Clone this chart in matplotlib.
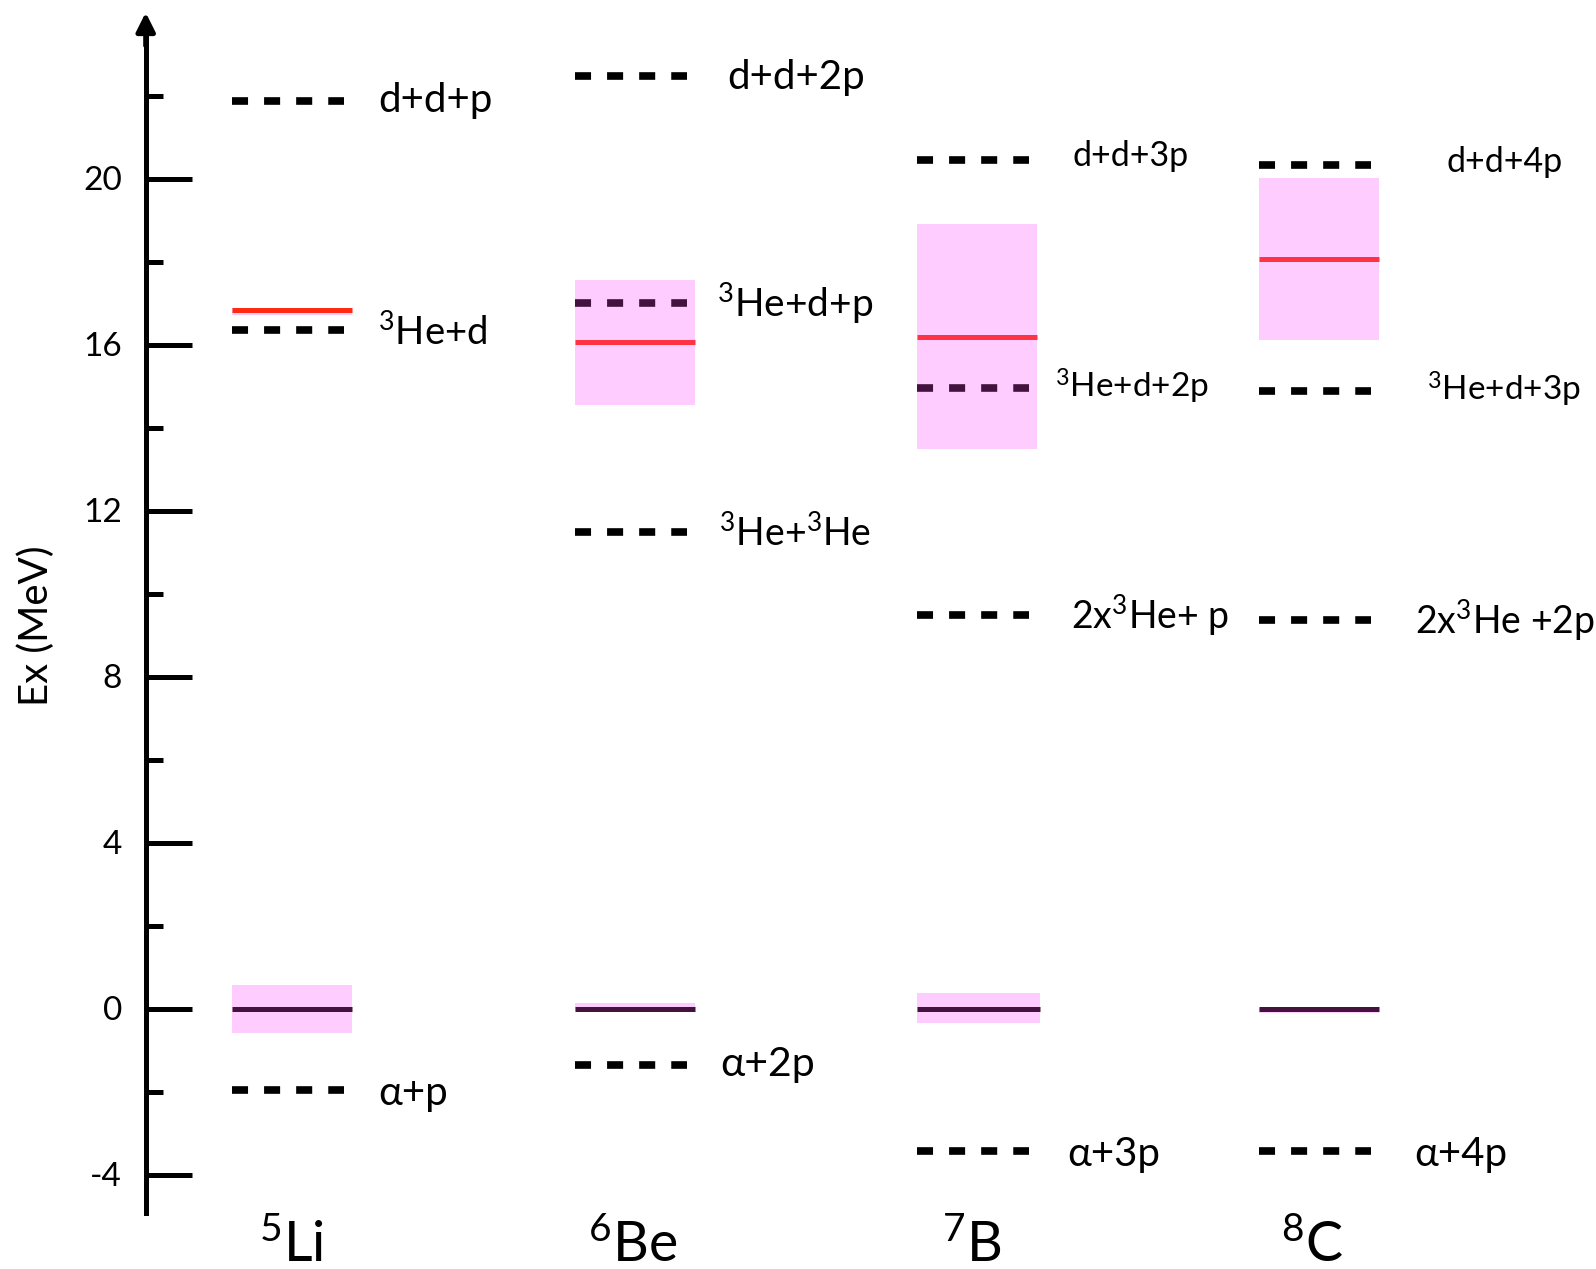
import matplotlib
matplotlib.use("Agg")
import matplotlib.pyplot as plt

plt.rcParams['font.family'] = ['Lato', 'Noto Sans', 'DejaVu Sans']
plt.rcParams['mathtext.fontset'] = 'custom'
plt.rcParams['mathtext.rm'] = 'Lato'
plt.rcParams['mathtext.it'] = 'Lato:italic'
plt.rcParams['mathtext.bf'] = 'Lato:bold'

# ---- data (energies in MeV) ----
nuclei = [r'$\mathregular{^5}$Li', r'$\mathregular{^6}$Be', r'$\mathregular{^7}$B', r'$\mathregular{^8}$C']
ground_band = [(-0.58, 0.57), (-0.07, 0.13), (-0.34, 0.37), (-0.10, 0.02)]
excited_level = [16.83, 16.05, 16.19, 18.05]
excited_band = [(16.72, 16.88), (14.55, 17.56), (13.47, 18.90), (16.11, 20.02)]

li_thresholds = [-1.96, 16.35, 21.87]
li_labels = [r'α+p', r'$\mathregular{^3}$He+d', r'd+d+p']
be_thresholds = [-1.35, 11.49, 16.99, 22.48]
be_labels = [r'α+2p', r'$\mathregular{^3}$He+$\mathregular{^3}$He', r'$\mathregular{^3}$He+d+p', r'd+d+2p']
b_thresholds = [-3.43, 9.48, 14.95, 20.45]
b_labels = [r'α+3p', r'2x$\mathregular{^3}$He+ p', r'$\mathregular{^3}$He+d+2p', r'd+d+3p']
c_thresholds = [-3.43, 9.36, 14.87, 20.32]
c_labels = [r'α+4p', r'2x$\mathregular{^3}$He +2p', r'$\mathregular{^3}$He+d+3p', r'd+d+4p']

ytick_values = [-4, 0, 4, 8, 12, 16, 20]
ytick_minor = [-2, 2, 6, 10, 14, 18, 22]

# ---- layout ----
W, H = 1596, 1269
col_left = [232, 575, 917, 1259]
col_width = 120
dash_span = 112
label_x = [
    [378, 378, 378],
    [720, 719, 717, 727],
    [1067, 1071, 1055, 1073],
    [1414, 1415, 1427, 1446],
]
label_size = [
    [29, 27.5, 29],
    [29.5, 27, 28, 29],
    [29, 27, 24, 24.5],
    [29, 27, 24, 24.5],
]
label_dy = [
    [-0.08, -0.05, 0.0],
    [0.0, -0.05, 0.0, -0.05],
    [-0.08, 0.0, 0.05, 0.1],
    [-0.08, 0.0, 0.05, 0.08],
]
name_x = [292, 633, 972, 1312]
name_y_pix = 1246

thresholds = [li_thresholds, be_thresholds, b_thresholds, c_thresholds]
labels = [li_labels, be_labels, b_labels, c_labels]

PINK = '#FFCCFF'
DARK = '#45113F'
RED_BOX = '#FF3344'
RED_FREE = '#FF2A12'

fig = plt.figure(figsize=(W / 100, H / 100), dpi=100)
ax = fig.add_axes([0, 0, 1, 1])
px_per_mev = 41.5
y0_pix = 1008.5
ax.set_ylim(-(H - y0_pix) / px_per_mev, y0_pix / px_per_mev)
ax.set_xlim(0, W)

for i in range(4):
    x0 = col_left[i]
    x1 = x0 + col_width
    # ground state with width band
    lo, hi = ground_band[i]
    ax.fill_between([x0, x1 + (3 if i == 2 else 0)], lo, hi, color=PINK, lw=0, zorder=1)
    ax.plot([x0, x1 + (3 if i == 2 else 0)], [0, 0], color=DARK, lw=3.6,
            solid_capstyle='butt', zorder=3)
    # excited state with width band
    lo, hi = excited_band[i]
    ax.fill_between([x0, x1], lo, hi, color=PINK, lw=0, zorder=1)
    wide = (hi - lo) > 0.5
    ax.plot([x0, x1], [excited_level[i]] * 2, color=RED_BOX if wide else RED_FREE,
            lw=3.6, solid_capstyle='butt', zorder=3)
    # breakup thresholds
    for j, (e, lab) in enumerate(zip(thresholds[i], labels[i])):
        inside = wide and lo <= e <= hi
        ax.plot([x0, x0 + dash_span], [e, e], color=DARK if inside else 'black',
                lw=5.5, linestyle=(0, (2.1, 2.1)), dash_capstyle='butt', zorder=4)
        ax.text(label_x[i][j], e + label_dy[i][j], lab, fontsize=label_size[i][j],
                ha='left', va='center', color='black')
    ax.text(name_x[i], -(name_y_pix - y0_pix) / px_per_mev, nuclei[i], fontsize=40,
            ha='center', va='center', color='black')

# vertical energy axis
axis_x = 145.7
for side in ['top', 'right', 'bottom']:
    ax.spines[side].set_visible(False)
ax.spines['left'].set_position(('data', axis_x))
ax.spines['left'].set_linewidth(3.6)
ax.spines['left'].set_bounds(-4.92, 23.6)
ax.set_xticks([])
ax.set_yticks(ytick_values)
ax.set_yticklabels([str(v) for v in ytick_values], fontsize=24)
ax.set_yticks(ytick_minor, minor=True)
ax.tick_params(axis='y', which='major', direction='in', length=33, width=3.6, pad=17)
ax.tick_params(axis='y', which='minor', direction='in', length=12.5, width=3.6)
ax.annotate('', xy=(axis_x, 24.0), xytext=(axis_x, 23.2),
            arrowprops=dict(arrowstyle='-|>', lw=3.6, color='black', mutation_scale=28,
                            shrinkA=0, shrinkB=0))
ax.text(36, (y0_pix - 626) / px_per_mev, 'Ex (MeV)', rotation=90, fontsize=29,
        ha='center', va='center')

fig.savefig('out.png', dpi=100)
